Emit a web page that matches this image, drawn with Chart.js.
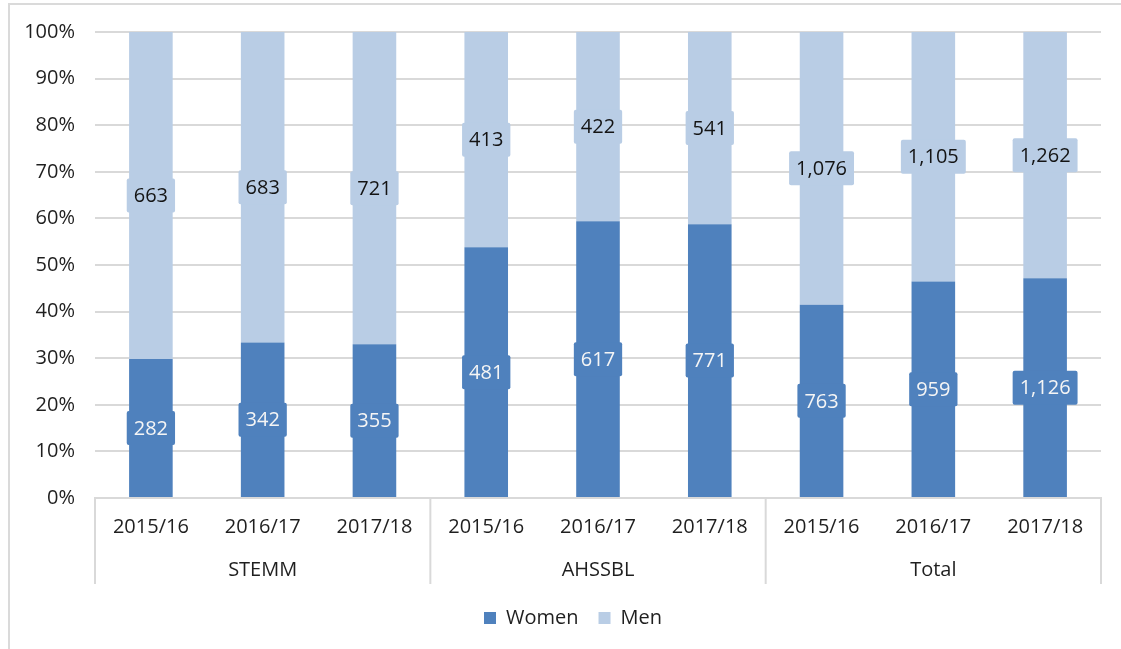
<!DOCTYPE html>
<html lang="en">
<head>
  <meta charset="UTF-8">
  <title>Women and men by subject group</title>
  <script src="https://cdn.jsdelivr.net/npm/chart.js"></script>
  <style>
    html, body {
      margin: 0;
      padding: 0;
      background: #fff;
      overflow: hidden;
    }

    .frame {
      position: absolute;
      left: 8px;
      top: 3px;
      width: 1200px;
      height: 700px;
      border: 2px solid #dadada;
    }

    .chart-box {
      position: absolute;
      left: 0;
      top: 0;
      width: 1121px;
      height: 649px;
    }
  </style>
</head>
<body>
  <div class="frame"></div>
  <div class="chart-box">
    <canvas id="genderChart"></canvas>
  </div>

  <script>
    const years = ['2015/16', '2016/17', '2017/18', '2015/16', '2016/17', '2017/18', '2015/16', '2016/17', '2017/18'];
    const groups = ['STEMM', 'AHSSBL', 'Total'];
    const women = [282, 342, 355, 481, 617, 771, 763, 959, 1126];
    const men = [663, 683, 721, 413, 422, 541, 1076, 1105, 1262];

    const womenColor = '#4f81bd';
    const menColor = '#b9cde5';
    const textColor = '#1f1f1f';
    const gridColor = '#d9d9d9';
    const fontFamily = "'Open Sans', 'Noto Sans', sans-serif";
    const fontSize = 20;

    // bars show the share of each year's headcount
    const womenPct = women.map((w, i) => w / (w + men[i]) * 100);
    const menPct = men.map((m, i) => m / (women[i] + m) * 100);

    // boxed count labels in the middle of each segment
    const countLabels = {
      id: 'countLabels',
      afterDatasetsDraw(chart) {
        const ctx = chart.ctx;
        ctx.save();
        ctx.font = fontSize + 'px ' + fontFamily;
        ctx.textAlign = 'center';
        ctx.textBaseline = 'middle';
        chart.data.datasets.forEach((ds, di) => {
          const meta = chart.getDatasetMeta(di);
          meta.data.forEach((bar, i) => {
            const text = ds.counts[i].toLocaleString('en-GB');
            const cx = bar.x;
            const cy = (bar.y + bar.base) / 2;
            const w = ctx.measureText(text).width + 14;
            const h = 34;
            ctx.fillStyle = ds.backgroundColor;
            ctx.beginPath();
            ctx.roundRect(cx - w / 2, cy - h / 2, w, h, 2);
            ctx.fill();
            ctx.fillStyle = ds.labelColor;
            ctx.fillText(text, cx, cy + 1);
          });
        });
        ctx.restore();
      }
    };

    // second row of the category axis: group names and separators
    const groupAxis = {
      id: 'groupAxis',
      afterLayout(chart) {
        // legend sits centred on the frame rather than the canvas
        chart.legend.left += 45;
      },
      afterDraw(chart) {
        const ctx = chart.ctx;
        const x = chart.scales.x;
        const top = chart.chartArea.bottom;
        const half = (x.getPixelForValue(1) - x.getPixelForValue(0)) / 2;
        ctx.save();
        ctx.strokeStyle = gridColor;
        ctx.lineWidth = 2;
        for (let g = 0; g <= groups.length; g++) {
          const px = g < groups.length
            ? x.getPixelForValue(g * 3) - half
            : x.getPixelForValue(g * 3 - 1) + half;
          ctx.beginPath();
          ctx.moveTo(px, top);
          ctx.lineTo(px, top + 86);
          ctx.stroke();
        }
        ctx.font = fontSize + 'px ' + fontFamily;
        ctx.fillStyle = textColor;
        ctx.textAlign = 'center';
        ctx.textBaseline = 'middle';
        groups.forEach((name, g) => {
          ctx.fillText(name, x.getPixelForValue(g * 3 + 1), top + 72);
        });
        ctx.restore();
      }
    };

    new Chart(document.getElementById('genderChart'), {
      type: 'bar',
      data: {
        labels: years,
        datasets: [{
          label: 'Women',
          data: womenPct,
          counts: women,
          backgroundColor: womenColor,
          labelColor: '#f5f5f5',
          borderWidth: 0,
          categoryPercentage: 1,
          barPercentage: 0.39
        }, {
          label: 'Men',
          data: menPct,
          counts: men,
          backgroundColor: menColor,
          labelColor: '#141414',
          borderWidth: 0,
          categoryPercentage: 1,
          barPercentage: 0.39
        }]
      },
      options: {
        responsive: true,
        maintainAspectRatio: false,
        animation: false,
        layout: {
          padding: { top: 31, right: 20, bottom: 11, left: 0 }
        },
        plugins: {
          legend: {
            position: 'bottom',
            labels: {
              boxWidth: 12,
              boxHeight: 12,
              padding: 20,
              color: textColor,
              font: { family: fontFamily, size: fontSize }
            }
          },
          tooltip: { enabled: false }
        },
        scales: {
          x: {
            stacked: true,
            grid: { display: false },
            border: { color: gridColor, width: 2 },
            ticks: {
              color: textColor,
              font: { family: fontFamily, size: fontSize },
              padding: 9,
              maxRotation: 0,
              autoSkip: false
            },
            afterFit(scale) { scale.height = 90; }
          },
          y: {
            stacked: true,
            min: 0,
            max: 100,
            border: { display: false },
            grid: { color: gridColor, lineWidth: 2, drawTicks: false },
            ticks: {
              stepSize: 10,
              padding: 20,
              color: textColor,
              font: { family: fontFamily, size: fontSize },
              callback: v => v + '%'
            },
            afterFit(scale) { scale.width = 95; }
          }
        }
      },
      plugins: [countLabels, groupAxis]
    });
  </script>
</body>
</html>
